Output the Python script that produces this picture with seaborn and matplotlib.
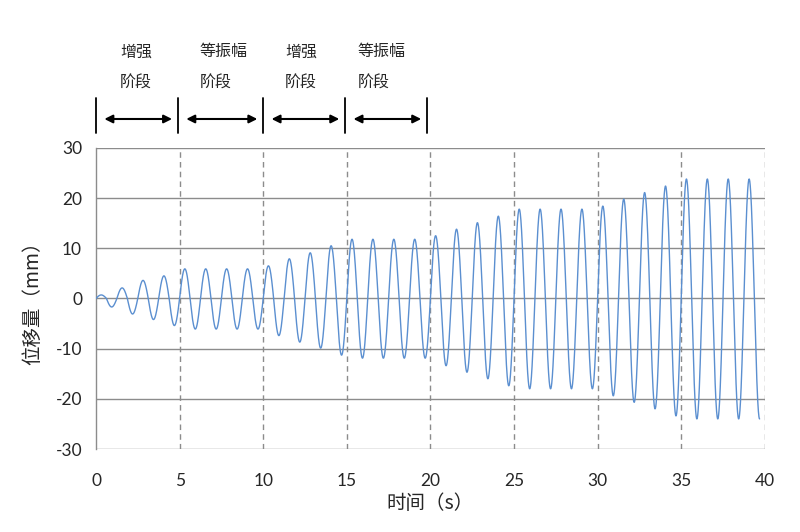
import numpy as np
import pandas as pd
import matplotlib.pyplot as plt
from matplotlib import transforms
import seaborn as sns

# loading history: period of one cycle and the
# peak / trough value of every half cycle, stage by stage (mm)
period = 1.25
t_end = 39.69
stage1 = [0.7, -1.7, 2.1, -3.1, 3.6, -4.2, 4.5, -5.4]
stage2 = [5.9, -6.1, 5.9, -6.1, 5.9, -6.1, 5.9, -6.1]
stage3 = [6.5, -7.4, 7.9, -8.7, 9.1, -9.9, 10.5, -11.3]
stage4 = [11.8, -11.9, 11.8, -11.9, 11.8, -11.9, 11.8, -11.9]
stage5 = [12.5, -13.4, 13.8, -14.7, 15.1, -16.0, 16.4, -17.4]
stage6 = [17.8, -18.0, 17.8, -18.0, 17.8, -18.0, 17.8, -18.0]
stage7 = [18.4, -19.4, 19.8, -20.7, 21.1, -22.0, 22.4, -23.4]
stage8 = [23.8, -24.0, 23.8, -24.0, 23.8, -24.0, 23.8, -24.0]

x_ticks = [0, 5, 10, 15, 20, 25, 30, 35, 40]
y_ticks = [-30, -20, -10, 0, 10, 20, 30]

# stage annotations above the plot
stage_names = ['增强', '等振幅', '增强', '等振幅']
stage_text_x = [1.45, 6.2, 11.3, 15.65]
stage_bounds = [0, 4.9, 10, 14.9, 19.8]

#%% build the displacement curve
extremes = np.array(stage1 + stage2 + stage3 + stage4 + stage5 + stage6 + stage7 + stage8)
t = np.linspace(0, t_end, 6000)
half = np.minimum((t // (period / 2)).astype(int), len(extremes) - 1)
disp = np.abs(extremes[half]) * np.sin(2 * np.pi * t / period)
df = pd.DataFrame({'time': t, 'disp': disp})

#%% plot
sns.set_style('white')
plt.rcParams['font.family'] = ['Lato', 'Noto Sans CJK SC', 'DejaVu Sans']
plt.rcParams['axes.unicode_minus'] = False

fig = plt.figure(figsize=(8, 5.32), dpi=100)
ax = fig.add_axes([0.12, 0.156, 0.836, 0.566])

grid_col = '#8c8c8c'
for yv in y_ticks:
    ax.axhline(yv, color=grid_col, lw=1.0, zorder=1)
for xv in x_ticks[1:]:
    ax.axvline(xv, color=grid_col, lw=1.0, ls=(0, (4, 3)), zorder=1)

sns.lineplot(data=df, x='time', y='disp', color='#5b8fd0', lw=1.0,
             sort=False, estimator=None, ax=ax, zorder=3)

ax.set_xlim(0, 40)
ax.set_ylim(-30, 30)
ax.set_xticks(x_ticks)
ax.set_yticks(y_ticks)
ax.tick_params(axis='y', length=6, width=1, color=grid_col, labelsize=12.5, pad=4)
ax.tick_params(axis='x', length=0, labelsize=12.5, pad=17)

for s in ['top', 'right', 'bottom']:
    ax.spines[s].set_visible(False)
ax.spines['left'].set_color(grid_col)
ax.spines['left'].set_linewidth(1.0)

ax.set_xlabel('时间（s）', fontsize=14, family=['Noto Sans CJK SC'], labelpad=3)
ax.set_ylabel('位移量（mm）', fontsize=14, family=['Noto Sans CJK SC'], labelpad=9)

# stage markers
trans = transforms.blended_transform_factory(ax.transData, ax.transAxes)
for xb in stage_bounds:
    ax.plot([xb, xb], [1.05, 1.166], color='black', lw=1.3,
            transform=trans, clip_on=False)
for i in range(len(stage_bounds) - 1):
    x0 = stage_bounds[i] + 0.5
    x1 = stage_bounds[i + 1] - 0.35
    ax.annotate('', xy=(x1, 1.096), xytext=(x0, 1.096), xycoords=trans,
                textcoords=trans,
                arrowprops=dict(arrowstyle='<|-|>', color='black', lw=1.5,
                                mutation_scale=12, shrinkA=0, shrinkB=0))
for name, xt in zip(stage_names, stage_text_x):
    ax.text(xt, 1.319, name, transform=trans, ha='left', va='center',
            fontsize=11.5, family=['Noto Sans CJK SC'])
    ax.text(xt, 1.216, '阶段', transform=trans, ha='left', va='center',
            fontsize=11.5, family=['Noto Sans CJK SC'])

plt.savefig('out.png', dpi=100)
